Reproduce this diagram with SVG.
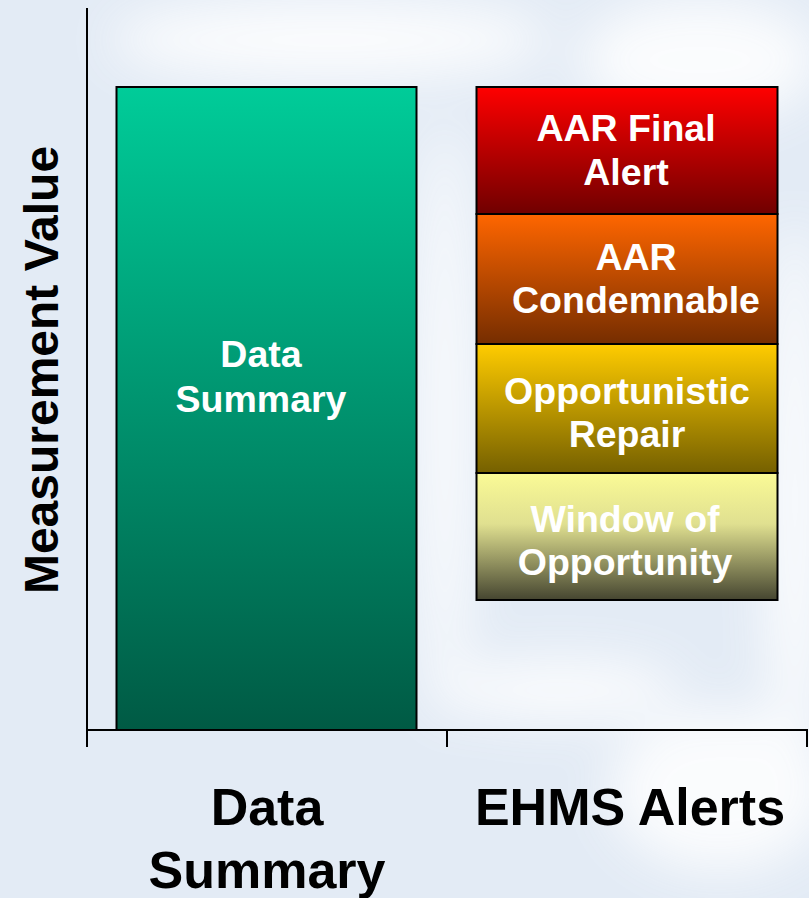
<svg xmlns="http://www.w3.org/2000/svg" width="809" height="898" viewBox="0 0 809 898">
<defs>
<linearGradient id="gGreen" x1="0" y1="0" x2="0" y2="1"><stop offset="0" stop-color="#00CC99"/><stop offset="1" stop-color="#005A44"/></linearGradient>
<linearGradient id="gRed" x1="0" y1="0" x2="0" y2="1"><stop offset="0" stop-color="#FF0000"/><stop offset="1" stop-color="#700000"/></linearGradient>
<linearGradient id="gOrange" x1="0" y1="0" x2="0" y2="1"><stop offset="0" stop-color="#FF6600"/><stop offset="1" stop-color="#752D00"/></linearGradient>
<linearGradient id="gYellow" x1="0" y1="0" x2="0" y2="1"><stop offset="0" stop-color="#FFCC00"/><stop offset="1" stop-color="#756000"/></linearGradient>
<linearGradient id="gPale" x1="0" y1="0" x2="0" y2="1"><stop offset="0" stop-color="#FAFA96"/><stop offset="0.4" stop-color="#E0E090"/><stop offset="1" stop-color="#454530"/></linearGradient>
<filter id="blur" x="-50%" y="-50%" width="200%" height="200%"><feGaussianBlur stdDeviation="25"/></filter>
</defs>
<style>
.bar{stroke:#000;stroke-width:2}
.in{font-family:"Liberation Sans",Arial,sans-serif;font-weight:bold;font-size:37.5px;fill:#fff;text-anchor:middle}
.lab{font-family:"Liberation Sans",Arial,sans-serif;font-weight:bold;font-size:52px;fill:#000;text-anchor:middle}
.ax{stroke:#000;stroke-width:2;fill:none}
</style>
<rect width="809" height="898" fill="#E3EBF5"/>
<g filter="url(#blur)" fill="#FFFFFF" opacity="0.85">
<ellipse cx="330" cy="40" rx="220" ry="40"/>
<ellipse cx="700" cy="60" rx="120" ry="60"/>
<ellipse cx="445" cy="420" rx="25" ry="300"/>
<ellipse cx="795" cy="500" rx="30" ry="280"/>
<ellipse cx="720" cy="790" rx="110" ry="80"/>
<ellipse cx="560" cy="690" rx="120" ry="30"/>
</g>
<g id="axes">
<path class="ax" d="M87 8V731M87 730H808M87 730V747M447 730V747M807 730V747"/>
</g>
<g id="data-summary">
<rect class="bar" x="116.5" y="87" width="300" height="643" fill="url(#gGreen)"/>
<text class="in" x="261" y="367">Data</text>
<text class="in" x="261" y="412">Summary</text>
</g>
<g id="aar-final">
<rect class="bar" x="476.5" y="87" width="301" height="127" fill="url(#gRed)"/>
<text class="in" x="626" y="141">AAR Final</text>
<text class="in" x="626" y="185">Alert</text>
</g>
<g id="aar-condemnable">
<rect class="bar" x="476.5" y="214" width="301" height="130" fill="url(#gOrange)"/>
<text class="in" x="636" y="270">AAR</text>
<text class="in" x="636" y="313">Condemnable</text>
</g>
<g id="opportunistic">
<rect class="bar" x="476.5" y="344" width="301" height="129" fill="url(#gYellow)"/>
<text class="in" x="627" y="404">Opportunistic</text>
<text class="in" x="627" y="447">Repair</text>
</g>
<g id="window">
<rect class="bar" x="476.5" y="473" width="301" height="127" fill="url(#gPale)"/>
<text class="in" x="625" y="532">Window of</text>
<text class="in" x="625" y="575">Opportunity</text>
</g>
<g id="labels">
<text class="lab" x="267" y="825">Data</text>
<text class="lab" x="267" y="888">Summary</text>
<text class="lab" x="630" y="825">EHMS Alerts</text>
<text class="lab" style="font-size:48px" transform="translate(58 370) rotate(-90)">Measurement Value</text>
</g>
</svg>
